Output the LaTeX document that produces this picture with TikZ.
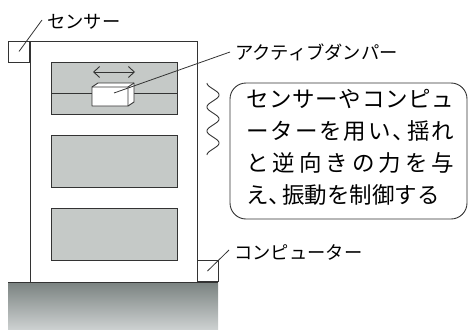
\documentclass[tikz,border=0pt]{standalone}
\usepackage{fontspec}
\setmainfont{Noto Sans CJK JP}
\usetikzlibrary{arrows.meta}
\definecolor{ink}{HTML}{333333}
\definecolor{panelgray}{HTML}{C5C9C7}
\definecolor{groundtop}{HTML}{7A8280}
\definecolor{groundbot}{HTML}{CCD0D0}
\tikzset{
  outline/.style={draw=ink, line width=0.9pt},
  panel/.style={outline, fill=panelgray},
  leader/.style={draw=ink, line width=0.8pt},
  label/.style={anchor=west, inner sep=0pt, font=\fontsize{18.3pt}{21pt}\selectfont, text=black},
  msg/.style={anchor=west, inner sep=0pt, font=\fontsize{22.5pt}{26pt}\selectfont, text=black},
  smallbox/.style={outline, fill=white, inner sep=0pt, minimum width=21pt, minimum height=21pt},
}
\begin{document}
\begin{tikzpicture}[x=1pt, y=-1pt]
\useasboundingbox (0,0) rectangle (470,329);

% ground
\shade[top color=groundtop, bottom color=groundbot] (8,282) rectangle (218,329);
\draw[ink, line width=0.9pt] (8,282) -- (218,282);

% building body
\draw[outline, fill=white] (30,282) -- (30,41) -- (197,41) -- (197,282);

% floor panels
\draw[panel] (51,62) rectangle (177,114);
\draw[outline] (51,93) -- (177,93);
\draw[panel] (51,135) rectangle (177,187);
\draw[panel] (51,208) rectangle (177,260);

% active damper block
\draw[outline, fill=white, line join=round] (92,87) -- (98,83) -- (134,83) -- (134,102) -- (128,106) -- (92,106) -- cycle;
\draw[outline, line join=round] (92,87) -- (128,87) -- (134,83) (128,87) -- (128,106);
\draw[ink, line width=0.9pt, {Straight Barb[length=6pt,width=11pt]}-{Straight Barb[length=6pt,width=11pt]}] (93,72) -- (135,72);

% sensor and computer boxes
\node[smallbox] (sensor) at (19,51.5) {};
\node[smallbox] (computer) at (207.5,271) {};

% vibration wave
\draw[ink, line width=0.9pt] plot[domain=0:72, samples=120, smooth] ({213-6*cos(\x*15)}, {83+\x});

% labels
\node[label] (sensorlabel) at (47,22) {センサー};
\node[label] (damperlabel) at (235,52) {アクティブダンパー};
\node[label] (computerlabel) at (234,252) {コンピューター};

\coordinate (sensortip) at (42,20);
\coordinate (damperin) at (114,93);
\coordinate (dampertip) at (230,52);
\coordinate (computertip) at (229,250);

\draw[leader] (sensor.center) -- (sensortip);
\draw[leader] (damperin) -- (dampertip);
\draw[leader] (computer.center) -- (computertip);

% message box
\draw[ink, line width=0.9pt, rounded corners=16pt] (230,83) rectangle (467,219);
\node[msg] (line1) at (246,99) {\makebox[208pt][s]{セ\hfill ン\hfill サ\hfill ー\hfill や\hfill コ\hfill ン\hfill ピ\hfill ュ}};
\node[msg] (line2) at (246,131) {\makebox[208pt][s]{ー\hfill タ\hfill ー\hfill を\hfill 用\hfill い\hfill 、\hspace{-0.35em}揺\hfill れ}};
\node[msg] (line3) at (246,163) {\makebox[208pt][s]{と\hfill 逆\hfill 向\hfill き\hfill の\hfill 力\hfill を\hfill 与}};
\node[msg] (line4) at (246,195) {え、\hspace{-0.4em}振動を制御する};
\end{tikzpicture}
\end{document}
